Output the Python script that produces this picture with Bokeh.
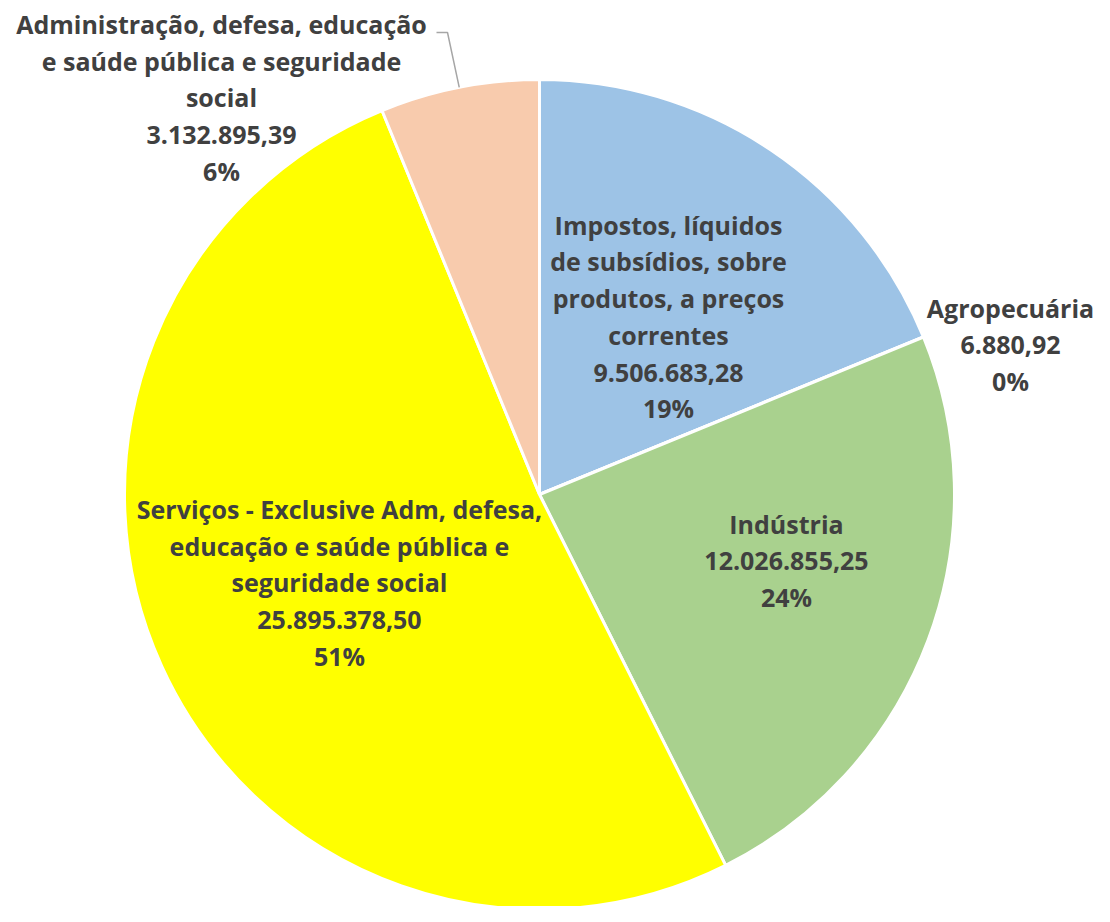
import numpy as np
from bokeh.plotting import figure
from bokeh.models import Range1d, ColumnDataSource
from bokeh.core.properties import value
from bokeh.embed import file_html
from bokeh.resources import INLINE

# ---- data ----
categories = [
    "Impostos, líquidos de subsídios, sobre produtos, a preços correntes",
    "Agropecuária",
    "Indústria",
    "Serviços - Exclusive Adm, defesa, educação e saúde pública e seguridade social",
    "Administração, defesa, educação e saúde pública e seguridade social",
]
values = [9506683.28, 6880.92, 12026855.25, 25895378.50, 3132895.39]
colors = ["#9DC3E6", "#FFC000", "#A9D18E", "#FFFF00", "#F8CBAD"]

# label wrapping (layout)
wrapped = [
    ["Impostos, líquidos", "de subsídios, sobre", "produtos, a preços", "correntes"],
    ["Agropecuária"],
    ["Indústria"],
    ["Serviços - Exclusive Adm, defesa,", "educação e saúde pública e", "seguridade social"],
    ["Administração, defesa, educação", "e saúde pública e seguridade", "social"],
]
# label centers in pixel coordinates (layout)
label_pos = [(668, 316), (1010, 344), (786, 560), (339, 582), (221, 97)]

# ---- geometry (pixel-like coordinates, y negative downward) ----
CX, CY, R = 539.0, -494.0, 415.0

vals = np.array(values)
total = vals.sum()
frac = vals / total
cum_end = np.cumsum(frac)
cum_start = cum_end - frac
start_angle = np.pi / 2 - cum_end * 2 * np.pi
end_angle = np.pi / 2 - cum_start * 2 * np.pi


def fmt_br(v):
    s = f"{v:,.2f}"
    return s.replace(",", "X").replace(".", ",").replace("X", ".")


texts = []
for w, v, f in zip(wrapped, values, frac):
    texts.append("\n".join(w + [fmt_br(v), f"{round(f * 100):.0f}%"]))

p = figure(width=1094, height=906, output_backend="svg", toolbar_location=None,
           x_range=Range1d(0, 1094), y_range=Range1d(-906, 0),
           min_border=0)
p.axis.visible = False
p.grid.visible = False
p.outline_line_color = None
p.background_fill_color = "white"
p.border_fill_color = "white"

src = ColumnDataSource(dict(start=start_angle, end=end_angle, color=colors))
p.wedge(x=CX, y=CY, radius=R, start_angle="start", end_angle="end",
        fill_color="color", line_color="white", line_width=3, source=src)

# leader line for the Administração label
mid = (cum_start[4] + cum_end[4]) / 2
ang = np.pi / 2 - mid * 2 * np.pi
px = CX + R * np.cos(ang)
py = CY + R * np.sin(ang)
p.line([px, 447, 436], [py, -32, -32], line_color="#A6A6A6", line_width=1.5)

lsrc = ColumnDataSource(dict(x=[q[0] for q in label_pos], y=[-q[1] for q in label_pos], text=texts))
p.text(x="x", y="y", text="text", source=lsrc, text_align="center", text_baseline="middle",
       text_font=value("Open Sans"), text_font_style="bold", text_font_size="25px",
       text_color="#404040", text_line_height=1.08)

open("out.html", "w").write(file_html(p, INLINE))
